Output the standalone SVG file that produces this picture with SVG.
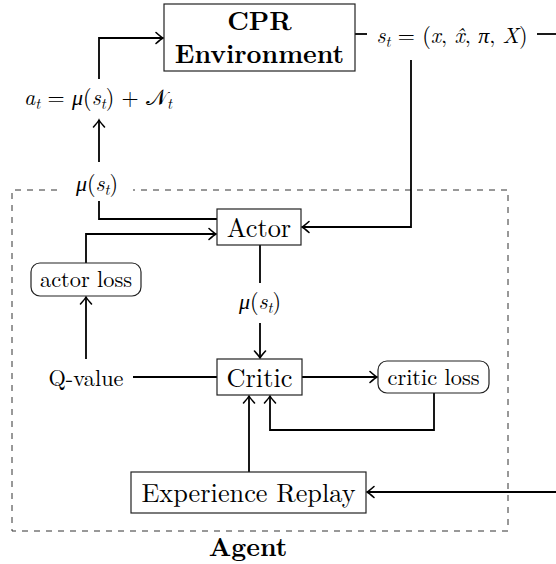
<svg xmlns="http://www.w3.org/2000/svg" width="556" height="564" viewBox="0 0 556 564" font-family="Latin Modern Roman, Liberation Serif, serif">
<style>
.box{fill:#fff;stroke:#222;stroke-width:1.2}
.t{fill:#000;text-anchor:middle}
.b{font-weight:bold}
.m{font-style:italic}
.c{fill:none;stroke:#000;stroke-width:1.8}
.dash{fill:none;stroke:#333;stroke-width:1;stroke-dasharray:6 6}
</style>
<defs>
<marker id="ah" markerUnits="userSpaceOnUse" markerWidth="14" markerHeight="14" viewBox="-8 -7 10 14" refX="0" refY="0" orient="auto">
<path d="M-7,-5.5 Q-2,-1 0,0 Q-2,1 -7,5.5" fill="none" stroke="#000" stroke-width="1.6" stroke-linecap="round"/>
</marker>
</defs>
<g id="agent-frame">
<path class="dash" d="M57,190 H12 V531 H508 V190 H133"/>
<text class="t b" x="248" y="556" font-size="26">Agent</text>
</g>
<g id="connectors">
<path class="c" d="M99,79 V38 H163" marker-end="url(#ah)"/>
<path class="c" d="M99,162 V120" marker-end="url(#ah)"/>
<path class="c" d="M217,219 H99 V201"/>
<path class="c" d="M355,34 H367"/>
<path class="c" d="M537,34 H556"/>
<path class="c" d="M411,60 V227 H302" marker-end="url(#ah)"/>
<path class="c" d="M556,492 H367" marker-end="url(#ah)"/>
<path class="c" d="M260,245 V283"/>
<path class="c" d="M260,323 V358" marker-end="url(#ah)"/>
<path class="c" d="M133,377 H217"/>
<path class="c" d="M86,359 V297" marker-end="url(#ah)"/>
<path class="c" d="M86,263 V234 H216" marker-end="url(#ah)"/>
<path class="c" d="M302,377 H377" marker-end="url(#ah)"/>
<path class="c" d="M434,393 V430 H270 V396" marker-end="url(#ah)"/>
<path class="c" d="M249,472 V396" marker-end="url(#ah)"/>
</g>
<g id="env">
<rect class="box" x="164" y="4" width="191" height="67"/>
<text class="t b" font-size="26"><tspan x="259.5" y="30">CPR</tspan><tspan x="259.5" y="63">Environment</tspan></text>
</g>
<g id="state-label">
<text class="t" x="452" y="43" font-size="22"><tspan class="m">s</tspan><tspan class="m" font-size="15" dy="3.5">t</tspan><tspan dy="-3.5"> = (</tspan><tspan class="m">x</tspan>, <tspan class="m">x̂</tspan>, <tspan class="m" font-family="Liberation Serif, serif">π</tspan>, <tspan class="m">X</tspan>)</text>
</g>
<g id="action-label">
<text class="t" x="98" y="105" font-size="22"><tspan class="m">a</tspan><tspan class="m" font-size="15" dy="3.5">t</tspan><tspan dy="-3.5"> = </tspan><tspan class="m" font-family="Liberation Serif, serif">μ</tspan>(<tspan class="m">s</tspan><tspan class="m" font-size="15" dy="3.5">t</tspan><tspan dy="-3.5">) + </tspan><tspan>𝒩</tspan><tspan class="m" font-size="15" dy="3.5">t</tspan></text>
</g>
<g id="mu-top">
<text class="t" x="97" y="191" font-size="22"><tspan class="m" font-family="Liberation Serif, serif">μ</tspan>(<tspan class="m">s</tspan><tspan class="m" font-size="15" dy="3.5">t</tspan><tspan dy="-3.5">)</tspan></text>
</g>
<g id="actor">
<rect class="box" x="217" y="209" width="84" height="36"/>
<text class="t" x="259" y="236.5" font-size="26.3">Actor</text>
</g>
<g id="mu-mid">
<text class="t" x="260" y="309" font-size="22"><tspan class="m" font-family="Liberation Serif, serif">μ</tspan>(<tspan class="m">s</tspan><tspan class="m" font-size="15" dy="3.5">t</tspan><tspan dy="-3.5">)</tspan></text>
</g>
<g id="actor-loss">
<rect class="box" x="31" y="263" width="110" height="33" rx="9"/>
<text class="t" x="86" y="287" font-size="22.3">actor loss</text>
</g>
<g id="q-value">
<text class="t" x="86" y="385.5" font-size="22.3">Q-value</text>
</g>
<g id="critic">
<rect class="box" x="217" y="359" width="85" height="36"/>
<text class="t" x="259.5" y="386.5" font-size="26.3">Critic</text>
</g>
<g id="critic-loss">
<rect class="box" x="378" y="361" width="111" height="32" rx="9"/>
<text class="t" x="433.5" y="385" font-size="22.3">critic loss</text>
</g>
<g id="replay">
<rect class="box" x="131" y="472" width="235" height="41"/>
<text class="t" x="248.5" y="502" font-size="26.3">Experience Replay</text>
</g>
</svg>
